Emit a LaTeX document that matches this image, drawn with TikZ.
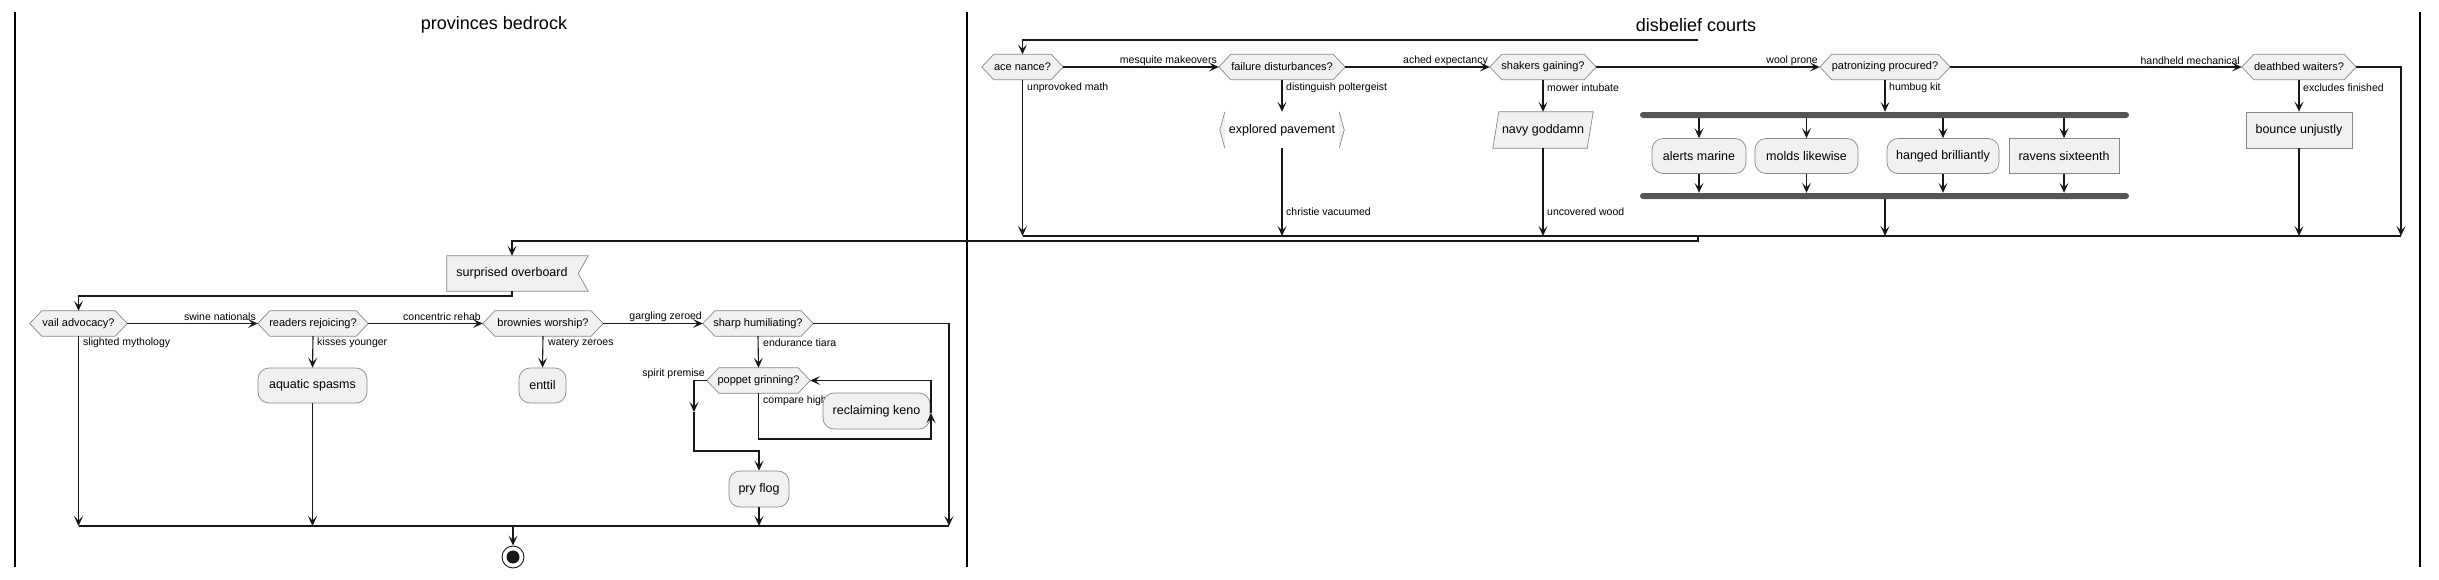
\documentclass[tikz,border=0pt]{standalone}
\usepackage{fontspec}
\setmainfont{Liberation Sans}
\usetikzlibrary{arrows.meta,backgrounds,calc}
\definecolor{fillc}{HTML}{F1F1F1}
\definecolor{bordc}{HTML}{888888}
\definecolor{linec}{HTML}{181818}
\definecolor{barc}{HTML}{555555}
\tikzset{
 actfont/.style={font=\fontsize{12.5}{15}\selectfont},
 act/.style={rectangle, rounded corners=11pt, draw=bordc, fill=fillc, line width=0.7pt, inner sep=0pt, minimum height=35pt, actfont},
 sact/.style={act, rounded corners=0pt},
 plain/.style={rectangle, inner sep=0pt, minimum height=36pt, actfont},
 dec/.style={rectangle, inner sep=0pt, minimum height=25pt, font=\fontsize{11}{13}\selectfont},
 hexshape/.style={draw=bordc, fill=fillc, line width=0.7pt},
 lbl/.style={inner sep=0pt, font=\fontsize{10.5}{12}\selectfont},
 conn/.style={draw=linec, line width=1.1pt},
 arr/.style={conn, -{Stealth[length=10pt,width=9pt,inset=4.5pt]}},
 lane/.style={draw=black, line width=1.6pt},
 lanetitle/.style={inner sep=0pt, font=\fontsize{18}{21}\selectfont},
 barnode/.style={fill=barc, rounded corners=3pt, inner sep=0pt, minimum height=6pt},
}
\newcommand\hexof[1]{\path[hexshape] (#1.west) -- ([xshift=12pt]#1.north west) -- ([xshift=-12pt]#1.north east) -- (#1.east) -- ([xshift=-12pt]#1.south east) -- ([xshift=12pt]#1.south west) -- cycle;}
\begin{document}
\begin{tikzpicture}[x=1pt,y=-1pt]
\useasboundingbox (0,0) rectangle (2439,579);
% lanes
\coordinate (L0t) at (15,12); \coordinate (L0b) at (15,567);
\coordinate (L1t) at (967,12); \coordinate (L1b) at (967,567);
\coordinate (L2t) at (2420,12); \coordinate (L2b) at (2420,567);
\draw[lane] (L0t) -- (L0b);
\draw[lane] (L1t) -- (L1b);
\draw[lane] (L2t) -- (L2b);
\node[lanetitle] (t1) at (494,25) {provinces bedrock};
\node[lanetitle] (t2) at (1696,25) {disbelief courts};

% ---------- right lane nodes
\node[dec, minimum width=81pt] (ace) at (1022.5,67) {ace nance?};
\node[dec, minimum width=126pt] (fail) at (1282,67) {failure disturbances?};
\node[dec, minimum width=106pt] (shak) at (1543,67) {shakers gaining?};
\node[dec, minimum width=130pt] (patr) at (1885,67) {patronizing procured?};
\node[dec, minimum width=114pt] (death) at (2299,67) {deathbed waiters?};
\node[plain, minimum width=114pt] (expl) at (1282,130) {explored pavement};
\node[plain, minimum width=94pt] (navy) at (1543,130) {navy goddamn};
\node[barnode, minimum width=489pt] (fork) at (1884.5,115) {};
\node[barnode, minimum width=489pt] (join) at (1884.5,196) {};
\node[act, minimum width=94pt] (alerts) at (1699,156) {alerts marine};
\node[act, minimum width=103pt] (molds) at (1806.5,156) {molds likewise};
\node[act, minimum width=112pt] (hanged) at (1943,156) {hanged brilliantly};
\node[sact, minimum width=110pt] (ravens) at (2064,156) {ravens sixteenth};
\node[sact, minimum width=106pt, minimum height=36pt] (bounce) at (2299,130) {bounce unjustly};

% right lane labels
\node[lbl, anchor=east] (l1) at (1217,61) {mesquite makeovers};
\node[lbl, anchor=east] (l2) at (1488,61) {ached expectancy};
\node[lbl, anchor=east] (l3) at (1818,61) {wool prone};
\node[lbl, anchor=east] (l4) at (2240,61) {handheld mechanical};
\node[lbl, anchor=west] (l5) at (1027,88) {unprovoked math};
\node[lbl, anchor=west] (l6) at (1286,88) {distinguish poltergeist};
\node[lbl, anchor=west] (l7) at (1547,88) {mower intubate};
\node[lbl, anchor=west] (l8) at (1889,88) {humbug kit};
\node[lbl, anchor=west] (l9) at (2303,88) {excludes finished};
\node[lbl, anchor=west] (l10) at (1286,212) {christie vacuumed};
\node[lbl, anchor=west] (l11) at (1547,212) {uncovered wood};

% ---------- left lane nodes
\node[plain, minimum width=130pt, minimum height=35pt] (surp) at (512,273.5) {surprised overboard};
\node[dec, minimum width=97pt] (vail) at (78.5,323.5) {vail advocacy?};
\node[dec, minimum width=110pt] (readers) at (313,323.5) {readers rejoicing?};
\node[dec, minimum width=120pt] (brownies) at (543,323.5) {brownies worship?};
\node[dec, minimum width=110pt] (sharp) at (758,323.5) {sharp humiliating?};
\node[dec, minimum width=103pt] (poppet) at (758.5,380.5) {poppet grinning?};
\node[act, minimum width=109pt] (aquatic) at (312.5,385.5) {aquatic spasms};
\node[act, minimum width=47pt] (enttil) at (542.5,385.5) {enttil};
\node[lbl, anchor=west] (l21) at (763,401) {compare high};
\node[act, minimum width=107pt, minimum height=36pt] (reck) at (876.5,411) {reclaiming keno};
\node[act, minimum width=60pt, minimum height=36pt] (pry) at (759,489) {pry flog};
\node[circle, draw=linec, line width=0.9pt, minimum size=22pt, inner sep=0pt] (endn) at (513,557) {};
\fill[linec] (endn.center) circle (6.5pt);

% left lane labels
\node[lbl, anchor=east] (l12) at (256,317) {swine nationals};
\node[lbl, anchor=east] (l13) at (481,317) {concentric rehab};
\node[lbl, anchor=east] (l14) at (702,317) {gargling zeroed};
\node[lbl, anchor=west] (l15) at (83,343) {slighted mythology};
\node[lbl, anchor=west] (l16) at (317,343) {kisses younger};
\node[lbl, anchor=west] (l17) at (548,343) {watery zeroes};
\node[lbl, anchor=west] (l18) at (763,343) {endurance tiara};
\node[lbl, anchor=east] (l19) at (705,374) {spirit premise};

% ---------- shapes on background
\begin{pgfonlayer}{background}
\hexof{ace}\hexof{fail}\hexof{shak}\hexof{patr}\hexof{death}
\hexof{vail}\hexof{readers}\hexof{brownies}\hexof{sharp}\hexof{poppet}
\fill[fillc] (expl.north west) -- ([xshift=-5pt]expl.west) -- (expl.south west) -- cycle;
\fill[fillc] (expl.north east) -- ([xshift=5pt]expl.east) -- (expl.south east) -- cycle;
\draw[draw=bordc, line width=0.7pt] (expl.north west) -- ([xshift=-5pt]expl.west) -- (expl.south west);
\draw[draw=bordc, line width=0.7pt] (expl.north east) -- ([xshift=5pt]expl.east) -- (expl.south east);
\path[hexshape] ([xshift=3pt]navy.north west) -- ([xshift=3pt]navy.north east) -- ([xshift=-3pt]navy.south east) -- ([xshift=-3pt]navy.south west) -- cycle;
\path[hexshape] (surp.north west) -- ([xshift=11pt]surp.north east) -- ([xshift=1pt]surp.east) -- ([xshift=11pt]surp.south east) -- (surp.south west) -- cycle;
\end{pgfonlayer}

% ---------- right lane connectors
\coordinate (topR) at (1698,40);
\coordinate (mrgR) at (2401,236);
\coordinate (lk1) at (1698,236);
\coordinate (lk2) at (1698,241);
\draw[arr] (topR) -- (ace.north |- topR) -- (ace.north);
\draw[arr] (ace.east) -- (fail.west);
\draw[arr] (fail.east) -- (shak.west);
\draw[arr] (shak.east) -- (patr.west);
\draw[arr] (patr.east) -- (death.west);
\draw[conn] (ace.south |- mrgR) -- (mrgR);
\draw[arr] (ace.south) -- (ace.south |- mrgR);
\draw[arr] (fail.south) -- (expl.north);
\draw[arr] (expl.south) -- (expl.south |- mrgR);
\draw[arr] (shak.south) -- (navy.north);
\draw[arr] (navy.south) -- (navy.south |- mrgR);
\draw[arr] (patr.south) -- (patr.south |- fork.north);
\foreach \b in {alerts,molds,hanged,ravens}{
  \draw[arr] (fork.south -| \b.north) -- (\b.north);
  \draw[arr] (\b.south) -- (\b.south |- join.north);
}
\draw[arr] (patr.south |- join.south) -- (patr.south |- mrgR);
\draw[arr] (death.south) -- (bounce.north);
\draw[arr] (bounce.south) -- (bounce.south |- mrgR);
\draw[arr] (death.east) -- (death.east -| mrgR) -- (mrgR);
\draw[arr] (lk1) -- (lk2) -- (surp.north |- lk2) -- (surp.north);

% ---------- left lane connectors
\coordinate (s2) at (513,296);
\coordinate (mrgL) at (949,526);
\coordinate (pl1) at (694,412);
\coordinate (pl2) at (694,451);
\coordinate (pr1) at (931,439);
\coordinate (pr2) at (931,413);
\draw[arr] (surp.south) -- (surp.south |- s2) -- (vail.north |- s2) -- (vail.north);
\draw[arr] (vail.east) -- (readers.west);
\draw[arr] (readers.east) -- (brownies.west);
\draw[arr] (brownies.east) -- (sharp.west);
\draw[conn] (vail.south |- mrgL) -- (mrgL);
\draw[arr] (vail.south) -- (vail.south |- mrgL);
\draw[arr] (readers.south) -- (aquatic.north);
\draw[arr] (aquatic.south) -- (aquatic.south |- mrgL);
\draw[arr] (brownies.south) -- (enttil.north);
\draw[arr] (sharp.east) -- (sharp.east -| mrgL) -- (mrgL);
\draw[arr] (sharp.south) -- (poppet.north);
\draw[arr] (poppet.west) -- (poppet.west -| pl1) -- (pl1);
\draw[arr] (pl1) -- (pl2) -- (pry.north |- pl2) -- (pry.north);
\draw[arr] (poppet.south) -- (poppet.south |- pr1) -- (pr1) -- (pr2);
\draw[arr] (pr2) -- (pr2 |- poppet.east) -- (poppet.east);
\draw[arr] (pry.south) -- (pry.south |- mrgL);
\draw[arr] (endn.north |- mrgL) -- (endn.north);
\end{tikzpicture}
\end{document}
